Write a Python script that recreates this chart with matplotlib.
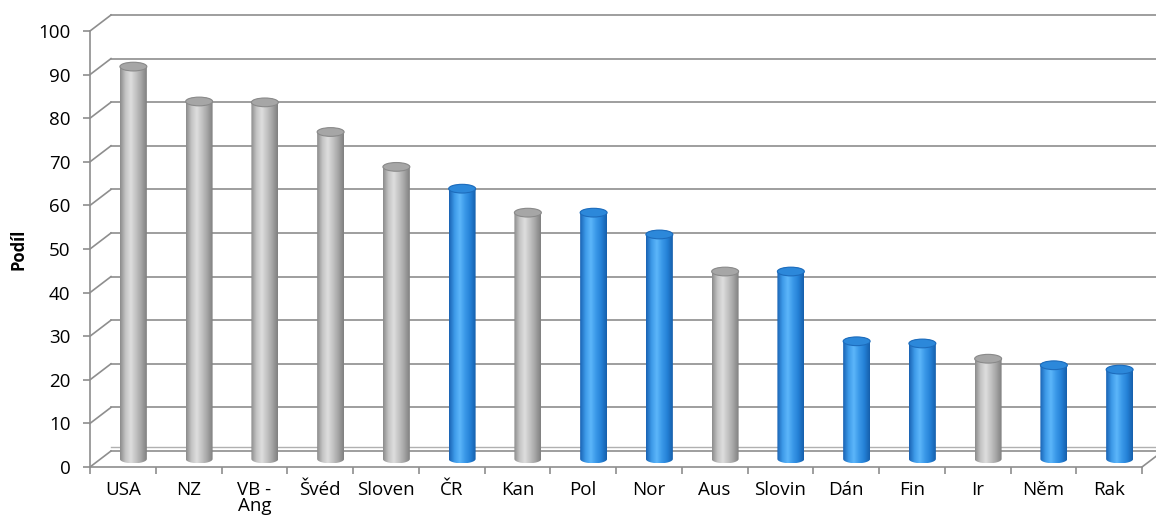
import numpy as np
import matplotlib.pyplot as plt
from matplotlib.patches import Ellipse, PathPatch
from matplotlib.path import Path
from matplotlib.colors import LinearSegmentedColormap

plt.rcParams['font.family'] = ['Open Sans', 'DejaVu Sans']

# data
countries = ['USA', 'NZ', 'VB -\nAng', 'Švéd', 'Sloven', 'ČR', 'Kan', 'Pol',
             'Nor', 'Aus', 'Slovin', 'Dán', 'Fin', 'Ir', 'Něm', 'Rak']
values = [90, 82, 81.8, 75, 67, 62, 56.5, 56.5, 51.5, 43, 43, 27, 26.5, 23, 21.5, 20.5]
highlight = ['ČR', 'Pol', 'Nor', 'Slovin', 'Dán', 'Fin', 'Něm', 'Rak']

grid_col = '#8e8e8e'
gray_cm = LinearSegmentedColormap.from_list(
    'g', ['#8c8c8c', '#c4c4c4', '#dedede', '#c2c2c2', '#a4a4a4', '#808080'])
blue_cm = LinearSegmentedColormap.from_list(
    'b', ['#1a63b4', '#3d9ae8', '#5cb6fa', '#3a98e8', '#2480d6', '#1660ac'])

fig = plt.figure(figsize=(11.56, 5.25), dpi=100)
ax = fig.add_axes([90 / 1156, 58 / 525, 1052 / 1156, 436 / 525])
n = len(countries)
ax.set_xlim(0, n)
ax.set_ylim(0, 100)

# depth offset of the back wall (data units)
dx = 21 / (1052 / n)
dy = 16 / 4.36

# walls: left diagonals and back gridlines
for v in range(0, 101, 10):
    ax.plot([0, dx], [v, v + dy], color=grid_col, lw=1.2, clip_on=False, zorder=1)
    ax.plot([dx, n + dx + 0.3], [v + dy, v + dy], color=grid_col, lw=1.2,
            clip_on=False, zorder=1)
ax.plot([dx, n + dx + 0.3], [dy + 0.9, dy + 0.9], color='#b0b0b0', lw=1.0,
        clip_on=False, zorder=1)
ax.plot([n, n + dx], [0, dy], color=grid_col, lw=1.2, clip_on=False, zorder=1)

# cylinders
rx = 0.205
ry = 1.0
grad = np.linspace(0, 1, 64).reshape(1, -1)
for i, (c, v) in enumerate(zip(countries, values)):
    cx = i + 0.5 + dx / 2
    base = dy / 2
    top = v + dy / 2
    cm = blue_cm if c in highlight else gray_cm
    t = np.linspace(np.pi, 2 * np.pi, 40)
    bottom_arc = np.column_stack([cx + rx * np.cos(t), base + ry * np.sin(t)])
    t2 = np.linspace(0, np.pi, 40)
    top_arc = np.column_stack([cx + rx * np.cos(t2), top + ry * np.sin(t2)])
    verts = np.vstack([bottom_arc, top_arc, bottom_arc[:1]])
    clip = PathPatch(Path(verts), transform=ax.transData, facecolor='none',
                     edgecolor='none')
    ax.add_patch(clip)
    im = ax.imshow(grad, cmap=cm, aspect='auto', interpolation='bilinear',
                   extent=[cx - rx, cx + rx, base - ry, top + ry], zorder=3)
    im.set_clip_path(clip)
    if c in highlight:
        topc, edge = '#2c88da', '#1d6cbc'
    else:
        topc, edge = '#a6a6a6', '#8a8a8a'
    ax.add_patch(Ellipse((cx, top), 2 * rx, 2 * ry, facecolor=topc,
                         edgecolor=edge, lw=0.8, zorder=4))

ax.set_xlim(0, n)
ax.set_ylim(0, 100)

# axes styling
for s in ['top', 'right']:
    ax.spines[s].set_visible(False)
ax.spines['left'].set_color(grid_col)
ax.spines['bottom'].set_color(grid_col)
ax.spines['left'].set_linewidth(1.2)
ax.spines['bottom'].set_linewidth(1.2)
ax.set_yticks(range(0, 101, 10))
ax.set_xticks(range(0, n + 1))
ax.set_xticklabels([])
ax.set_xticks(np.arange(n) + 0.5, minor=True)
ax.set_xticklabels(countries, minor=True, fontsize=13.5, linespacing=0.9,
                   va='top')
ax.tick_params(axis='x', which='minor', length=0, pad=10)
ax.tick_params(axis='x', which='major', length=5, color=grid_col, width=1.2)
ax.tick_params(axis='y', length=5, color=grid_col, width=1.2, labelsize=13.5,
               pad=9)
ax.set_ylabel('Podíl', fontsize=12, fontweight='bold', labelpad=8)

fig.savefig('out.png', dpi=100)
